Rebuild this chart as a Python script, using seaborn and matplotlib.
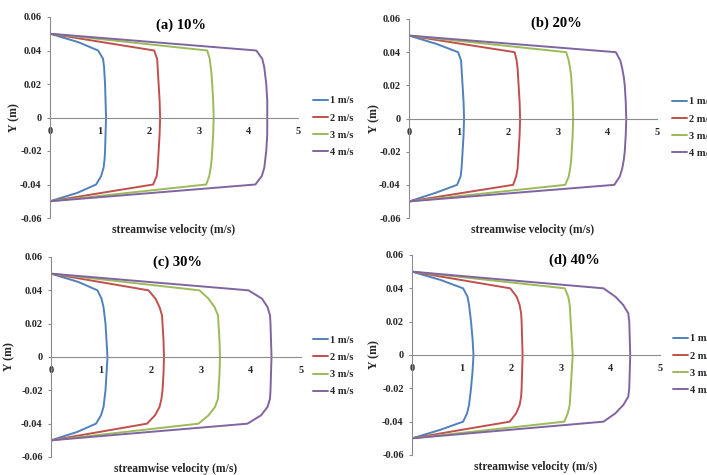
import numpy as np
import pandas as pd
import matplotlib
matplotlib.use("Agg")
import matplotlib.pyplot as plt
import seaborn as sns

# ---------------- data ----------------
Y = [0.05, 0.045, 0.04, 0.035, 0.03, 0.025, 0.02, 0.01, 0.0,
     -0.01, -0.02, -0.025, -0.03, -0.035, -0.04, -0.045, -0.05]

SPEEDS = ["1 m/s", "2 m/s", "3 m/s", "4 m/s"]
COLORS = ["#4F81BD", "#C0504D", "#9BBB59", "#8064A2"]

# panel (a) 10%
A_1 = [0, 0.57, 0.97, 1.07, 1.09, 1.10, 1.11, 1.12, 1.13, 1.12, 1.11, 1.10, 1.08, 1.03, 0.93, 0.55, 0]
A_2 = [0, 1.05, 2.10, 2.16, 2.17, 2.18, 2.19, 2.21, 2.22, 2.21, 2.19, 2.18, 2.17, 2.15, 2.08, 1.04, 0]
A_3 = [0, 1.58, 3.17, 3.22, 3.24, 3.26, 3.27, 3.29, 3.30, 3.29, 3.27, 3.26, 3.24, 3.21, 3.15, 1.57, 0]
A_4 = [0, 2.08, 4.16, 4.28, 4.32, 4.34, 4.36, 4.38, 4.38, 4.38, 4.36, 4.34, 4.32, 4.27, 4.14, 2.07, 0]

# panel (b) 20%
B_1 = [0, 0.55, 0.99, 1.05, 1.06, 1.07, 1.08, 1.10, 1.11, 1.10, 1.08, 1.07, 1.06, 1.04, 0.97, 0.52, 0]
B_2 = [0, 1.06, 2.13, 2.17, 2.19, 2.20, 2.21, 2.23, 2.24, 2.23, 2.21, 2.20, 2.19, 2.16, 2.10, 1.05, 0]
B_3 = [0, 1.58, 3.17, 3.22, 3.25, 3.27, 3.28, 3.30, 3.31, 3.30, 3.28, 3.27, 3.25, 3.22, 3.15, 1.57, 0]
B_4 = [0, 2.08, 4.17, 4.26, 4.30, 4.33, 4.35, 4.37, 4.38, 4.37, 4.35, 4.33, 4.30, 4.25, 4.14, 2.07, 0]

# panel (c) 30%
C_1 = [0, 0.55, 0.93, 1.01, 1.05, 1.07, 1.09, 1.11, 1.13, 1.11, 1.09, 1.07, 1.05, 1.00, 0.90, 0.52, 0]
C_2 = [0, 0.98, 1.95, 2.09, 2.17, 2.22, 2.23, 2.25, 2.26, 2.25, 2.23, 2.21, 2.17, 2.08, 1.92, 0.96, 0]
C_3 = [0, 1.48, 2.97, 3.15, 3.27, 3.34, 3.35, 3.37, 3.38, 3.37, 3.35, 3.34, 3.28, 3.15, 2.95, 1.47, 0]
C_4 = [0, 1.97, 3.95, 4.22, 4.33, 4.38, 4.39, 4.40, 4.41, 4.40, 4.39, 4.38, 4.33, 4.20, 3.93, 1.96, 0]

# panel (d) 40%
D_1 = [0, 0.58, 1.03, 1.12, 1.15, 1.17, 1.19, 1.22, 1.24, 1.22, 1.19, 1.17, 1.15, 1.11, 1.03, 0.56, 0]
D_2 = [0, 0.99, 1.98, 2.11, 2.17, 2.20, 2.21, 2.22, 2.23, 2.22, 2.21, 2.20, 2.17, 2.10, 1.97, 0.98, 0]
D_3 = [0, 1.54, 3.08, 3.15, 3.18, 3.19, 3.20, 3.22, 3.24, 3.22, 3.20, 3.19, 3.18, 3.14, 3.07, 1.53, 0]
D_4 = [0, 1.93, 3.86, 4.10, 4.26, 4.36, 4.38, 4.39, 4.40, 4.39, 4.38, 4.36, 4.26, 4.10, 3.86, 1.93, 0]

TITLES = ["(a) 10%", "(b) 20%", "(c) 30%", "(d) 40%"]
XTICKS = [0, 1, 2, 3, 4, 5]
XTICK_LABELS = ["0", "1", "2", "3", "4", "5"]
YTICKS = [-0.06, -0.04, -0.02, 0, 0.02, 0.04, 0.06]
YTICK_LABELS = ["-0.06", "-0.04", "-0.02", "0", "0.02", "0.04", "0.06"]
XLABEL = "streamwise velocity (m/s)"
YLABEL = "Y (m)"

PANELS = [[A_1, A_2, A_3, A_4], [B_1, B_2, B_3, B_4],
          [C_1, C_2, C_3, C_4], [D_1, D_2, D_3, D_4]]

# ---------------- style ----------------
sns.set_theme(style="white")
plt.rcParams["font.family"] = ["Liberation Serif", "DejaVu Serif"]
plt.rcParams["font.weight"] = "bold"

W, H = 707, 475
fig = plt.figure(figsize=(W / 100, H / 100), dpi=100)
fig.patch.set_facecolor("white")

# layout in pixels: (left, top, width, height)
BOXES = [(50, 17, 248, 201), (409, 19, 248, 199),
         (51, 257, 250, 200), (412, 255, 248, 200)]
TITLE_POS = [(0.53, 0.96), (0.596, 0.978), (0.506, 0.975), (0.653, 0.975)]
YLAB_X = [-0.121, -0.117, -0.144, -0.129]
LEG_POS = [(313, 126.5), (672, 127.5), (313, 366), (673, 364.5)]

TXT = "#262626"
AXC = "#8C8C8C"

for i, (box, series) in enumerate(zip(BOXES, PANELS)):
    l, t, w, h = box
    ax = fig.add_axes([l / W, (H - t - h) / H, w / W, h / H])
    df = pd.concat([pd.DataFrame({"Y": Y, "u": s, "speed": lab})
                    for s, lab in zip(series, SPEEDS)], ignore_index=True)
    sns.lineplot(data=df, x="u", y="Y", hue="speed", palette=COLORS, sort=False,
                 estimator=None, units="speed", linewidth=1.4, ax=ax, legend=False)
    ax.set_xlim(0, 5)
    ax.set_ylim(-0.06, 0.06)
    ax.set_facecolor("white")
    for s in ["top", "right"]:
        ax.spines[s].set_visible(False)
    ax.spines["left"].set_color(AXC)
    ax.spines["left"].set_linewidth(0.8)
    ax.spines["bottom"].set_position(("data", 0))
    ax.spines["bottom"].set_color(AXC)
    ax.spines["bottom"].set_linewidth(0.8)
    ax.set_xticks(XTICKS)
    ax.set_xticklabels(XTICK_LABELS)
    ax.set_yticks(YTICKS)
    ax.set_yticklabels(YTICK_LABELS)
    ax.tick_params(axis="x", length=0, pad=6.5, labelsize=7.5, labelcolor=TXT)
    ax.tick_params(axis="y", direction="out", length=2.5, width=0.8, color=AXC,
                   pad=3.5, labelsize=7.5, labelcolor=TXT, left=True)
    for lab in ax.get_xticklabels() + ax.get_yticklabels():
        lab.set_fontweight("bold")
    ax.set_xlabel(XLABEL, fontsize=8.3, fontweight="bold", color=TXT)
    ax.xaxis.set_label_coords(0.5, -0.032)
    ax.set_ylabel(YLABEL, fontsize=8.5, fontweight="bold", color=TXT)
    ax.yaxis.set_label_coords(YLAB_X[i], 0.5)
    ax.text(TITLE_POS[i][0], TITLE_POS[i][1], TITLES[i], transform=ax.transAxes,
            ha="center", va="center", fontsize=10.5, fontweight="bold", color="black")
    lx, ly = LEG_POS[i]
    ax.legend(ax.get_lines()[:4], SPEEDS, loc="center left",
              bbox_to_anchor=(lx / W, 1 - ly / H), bbox_transform=fig.transFigure,
              frameon=False, handlelength=1.45, handletextpad=0.15,
              labelspacing=0.76, borderpad=0, borderaxespad=0,
              prop={"weight": "bold", "size": 7.5})
    for txt in ax.get_legend().get_texts():
        txt.set_color(TXT)

fig.savefig("out.png", dpi=100, facecolor="white")
